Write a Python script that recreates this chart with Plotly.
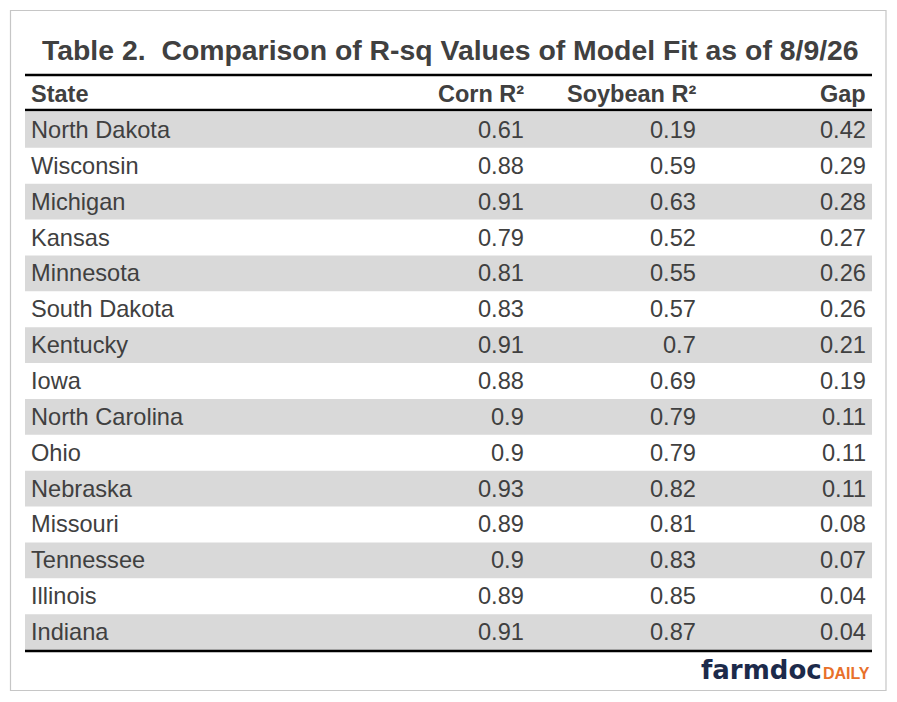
import plotly.graph_objects as go

states = ["North Dakota", "Wisconsin", "Michigan", "Kansas", "Minnesota", "South Dakota",
          "Kentucky", "Iowa", "North Carolina", "Ohio", "Nebraska", "Missouri",
          "Tennessee", "Illinois", "Indiana"]
corn_r2 = ["0.61", "0.88", "0.91", "0.79", "0.81", "0.83", "0.91", "0.88", "0.9", "0.9",
           "0.93", "0.89", "0.9", "0.89", "0.91"]
soy_r2 = ["0.19", "0.59", "0.63", "0.52", "0.55", "0.57", "0.7", "0.69", "0.79", "0.79",
          "0.82", "0.81", "0.83", "0.85", "0.87"]
gap = ["0.42", "0.29", "0.28", "0.27", "0.26", "0.26", "0.21", "0.19", "0.11", "0.11",
       "0.11", "0.08", "0.07", "0.04", "0.04"]
headers = ["State", "Corn R²", "Soybean R²", "Gap"]
title = "Table 2.\u00a0\u00a0Comparison of R-sq Values of Model Fit as of 8/9/26"

W, H = 897, 702
TXT = "#404040"
SHADE = "#d9d9d9"
FONT = "Liberation Sans, Arial, sans-serif"

x_left, x_right = 25, 872
col_x = [29, 526, 698, 868]
col_anchor = ["left", "right", "right", "right"]
row_top0 = 112
row_h = (650 - 112) / len(states)
header_y = 94

shapes = []
annotations = []

# outer frame
shapes.append(dict(type="rect", x0=10.5, x1=886, y0=10.5, y1=690.5,
                   line=dict(color="#c6c6c6", width=1.2), fillcolor="white", layer="below"))

# shaded rows
for i in range(len(states)):
    if i % 2 == 0:
        y0 = row_top0 + i * row_h
        shapes.append(dict(type="rect", x0=x_left, x1=x_right, y0=y0, y1=y0 + row_h,
                           line=dict(width=0), fillcolor=SHADE, layer="below"))

# rules
for yy, w in [(75, 2.4), (110, 2.4), (651, 2.4)]:
    shapes.append(dict(type="line", x0=x_left, x1=x_right, y0=yy, y1=yy,
                       line=dict(color="black", width=w)))

# title
annotations.append(dict(x=W / 2 + 2, y=50, text="<b>" + title + "</b>", showarrow=False,
                        xanchor="center", yanchor="middle",
                        font=dict(family=FONT, size=28.4, color=TXT)))

# header
for j, h in enumerate(headers):
    annotations.append(dict(x=col_x[j], y=header_y, text="<b>" + h + "</b>", showarrow=False,
                            xanchor=col_anchor[j], yanchor="middle",
                            font=dict(family=FONT, size=23.5, color=TXT)))

# body
cols = [states, corn_r2, soy_r2, gap]
for i in range(len(states)):
    yc = row_top0 + (i + 0.5) * row_h
    for j, col in enumerate(cols):
        annotations.append(dict(x=col_x[j], y=yc, text=col[i], showarrow=False,
                                xanchor=col_anchor[j], yanchor="middle",
                                font=dict(family=FONT, size=23.6, color=TXT)))

# logo
annotations.append(dict(x=872, y=679, text="<b>DAILY</b>", showarrow=False,
                        xanchor="right", yanchor="bottom", yshift=-5,
                        font=dict(family=FONT, size=16, color="#e8702a")))
annotations.append(dict(x=824, y=679, text="<b>farmdoc</b>", showarrow=False,
                        xanchor="right", yanchor="bottom", yshift=-8,
                        font=dict(family="DejaVu Sans, sans-serif", size=26, color="#1c2a4a")))

fig = go.Figure()
fig.add_trace(go.Scatter(x=[0, W], y=[0, H], mode="markers", marker=dict(opacity=0),
                         hoverinfo="skip", showlegend=False))
fig.update_layout(
    width=W, height=H, margin=dict(l=0, r=0, t=0, b=0),
    paper_bgcolor="white", plot_bgcolor="white",
    xaxis=dict(range=[0, W], visible=False, fixedrange=True),
    yaxis=dict(range=[H, 0], visible=False, fixedrange=True),
    shapes=shapes, annotations=annotations, showlegend=False,
)
fig.write_html("out.html", config={"displayModeBar": False},
               post_script="document.body.style.margin='0px';document.body.style.overflow='hidden';")
